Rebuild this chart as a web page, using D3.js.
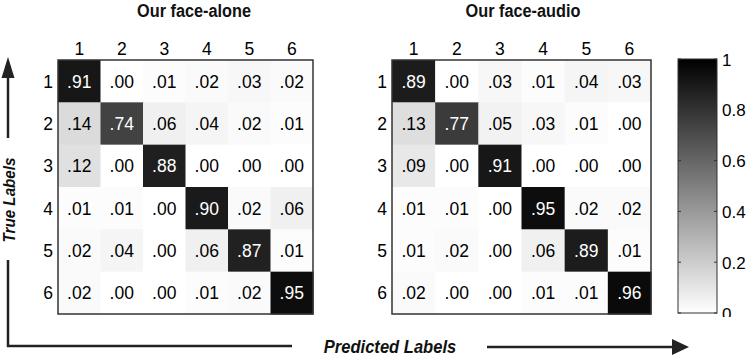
<!DOCTYPE html>
<html><head><meta charset="utf-8">
<script src="https://cdn.jsdelivr.net/npm/d3@7"></script>
<style>body{margin:0;background:#fff}svg{display:block}text{font-family:"Liberation Sans",Arial,sans-serif}</style>
</head><body><svg id="c" width="747" height="357"></svg>
<script>
const categories = ["1","2","3","4","5","6"];
const faceAlone = [
  [0.91,0.00,0.01,0.02,0.03,0.02],
  [0.14,0.74,0.06,0.04,0.02,0.01],
  [0.12,0.00,0.88,0.00,0.00,0.00],
  [0.01,0.01,0.00,0.90,0.02,0.06],
  [0.02,0.04,0.00,0.06,0.87,0.01],
  [0.02,0.00,0.00,0.01,0.02,0.95]
];
const faceAudio = [
  [0.89,0.00,0.03,0.01,0.04,0.03],
  [0.13,0.77,0.05,0.03,0.01,0.00],
  [0.09,0.00,0.91,0.00,0.00,0.00],
  [0.01,0.01,0.00,0.95,0.02,0.02],
  [0.01,0.02,0.00,0.06,0.89,0.01],
  [0.02,0.00,0.00,0.01,0.01,0.96]
];
const titles = ["Our face-alone","Our face-audio"];
const colorbarTicks = [0,0.2,0.4,0.6,0.8,1];

const svg = d3.select("#c");
const color = d3.scaleLinear().domain([0,1]).range(["#ffffff","#000000"]);
const fmt = v => d3.format(".2f")(v).replace(/^0/,"");

function matrix(data, title, x0, x1, y0, y1, titleX){
  const x = d3.scaleBand().domain(categories).range([x0,x1]);
  const y = d3.scaleBand().domain(categories).range([y0,y1]);
  const g = svg.append("g");
  const cells = [];
  data.forEach((row,i)=>row.forEach((v,j)=>cells.push({r:categories[i],c:categories[j],v})));
  g.selectAll("rect.cell").data(cells).join("rect").attr("class","cell")
    .attr("x",d=>x(d.c)).attr("y",d=>y(d.r))
    .attr("width",x.bandwidth()+0.5).attr("height",y.bandwidth()+0.5)
    .attr("fill",d=>color(d.v));
  g.selectAll("text.val").data(cells).join("text").attr("class","val")
    .attr("x",d=>x(d.c)+x.bandwidth()/2).attr("y",d=>y(d.r)+y.bandwidth()/2+6.5)
    .attr("text-anchor","middle").attr("font-size",17.5)
    .attr("fill",d=>d.v>0.5?"#fff":"#000").text(d=>fmt(d.v));
  g.append("rect").attr("x",x0).attr("y",y0).attr("width",x1-x0).attr("height",y1-y0)
    .attr("fill","none").attr("stroke","#333").attr("stroke-width",1.5);
  g.selectAll("text.col").data(categories).join("text").attr("class","col")
    .attr("x",d=>x(d)+x.bandwidth()/2).attr("y",y0-5).attr("text-anchor","middle")
    .attr("font-size",17.5).text(d=>d);
  g.selectAll("text.row").data(categories).join("text").attr("class","row")
    .attr("x",x0-5).attr("y",d=>y(d)+y.bandwidth()/2+6.5).attr("text-anchor","end")
    .attr("font-size",17.5).text(d=>d);
  g.append("text").attr("transform",`translate(${titleX},17) scale(0.88,1)`).attr("text-anchor","middle")
    .attr("font-size",18.5).attr("font-weight","bold").attr("fill","#111").text(title);
}
matrix(faceAlone, titles[0], 58, 313, 60, 314, 194);
matrix(faceAudio, titles[1], 392, 651, 60, 314, 523);

// colorbar
const cb = {x0:678,x1:717,y0:59,y1:313};
const defs = svg.append("defs");
const grad = defs.append("linearGradient").attr("id","gr").attr("x1",0).attr("x2",0).attr("y1",1).attr("y2",0);
grad.append("stop").attr("offset","0%").attr("stop-color",color(0));
grad.append("stop").attr("offset","100%").attr("stop-color",color(1));
defs.append("clipPath").attr("id","clipB").append("rect").attr("x",0).attr("y",0).attr("width",747).attr("height",317);
const cy = d3.scaleLinear().domain([0,1]).range([cb.y1,cb.y0]);
svg.append("rect").attr("x",cb.x0).attr("y",cb.y0).attr("width",cb.x1-cb.x0).attr("height",cb.y1-cb.y0)
  .attr("fill","url(#gr)").attr("stroke","#333").attr("stroke-width",1);
const tg = svg.append("g").attr("clip-path","url(#clipB)");
tg.selectAll("line.tl").data(colorbarTicks).join("line").attr("class","tl")
  .attr("x1",cb.x0).attr("x2",cb.x0+3).attr("y1",d=>cy(d)).attr("y2",d=>cy(d)).attr("stroke","#333");
tg.selectAll("line.tr").data(colorbarTicks).join("line").attr("class","tr")
  .attr("x1",cb.x1-3).attr("x2",cb.x1).attr("y1",d=>cy(d)).attr("y2",d=>cy(d)).attr("stroke","#333");
tg.selectAll("text.cbt").data(colorbarTicks).join("text").attr("class","cbt")
  .attr("x",cb.x1+5).attr("y",d=>cy(d)+6.5).attr("font-size",17).text(d=>d3.format("~g")(d));

// axis arrows
const ink = "#222";
svg.append("line").attr("x1",8).attr("x2",8).attr("y1",76).attr("y2",138).attr("stroke",ink).attr("stroke-width",2.5);
svg.append("path").attr("d","M8,57 L1.5,78 L14.5,78 Z").attr("fill",ink);
svg.append("path").attr("d","M8,260 L8,346 L292,346").attr("fill","none").attr("stroke",ink).attr("stroke-width",2.5);
svg.append("line").attr("x1",487).attr("x2",674).attr("y1",347).attr("y2",347).attr("stroke",ink).attr("stroke-width",2.5);
svg.append("path").attr("d","M689,347 L672,339 L672,355 Z").attr("fill",ink);
svg.append("text").attr("transform","translate(15,200) rotate(-90) scale(0.92,1)").attr("text-anchor","middle")
  .attr("font-size",16.5).attr("font-weight","bold").attr("font-style","italic").attr("fill","#111").text("True Labels");
svg.append("text").attr("transform","translate(390,353) scale(0.92,1)").attr("text-anchor","middle")
  .attr("font-size",18).attr("font-weight","bold").attr("font-style","italic").attr("fill","#111").text("Predicted Labels");
</script></body></html>
